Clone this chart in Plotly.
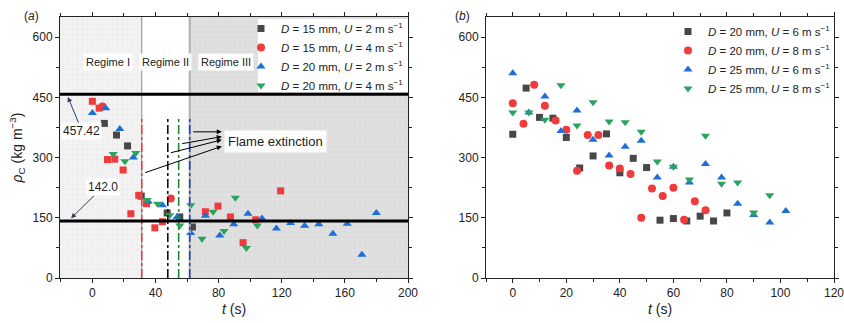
import plotly.graph_objects as go

# ---------------- data: panel (a) ----------------
a_t_dark = [7.6, 15.3, 22.3, 31.0, 47.4, 55.4, 63.4]
a_rho_dark = [385, 356, 329, 204, 162, 152, 127]

a_t_red_sq = [0, 4.3, 9.6, 14.2, 19.5, 24.4, 29.4, 34.3, 39.6, 44.4, 71.6, 79.6, 87.5, 95.5, 103.5, 119.3]
a_rho_red_sq = [440, 423, 295, 296, 269, 160, 206, 185, 125, 140, 165, 179, 152, 88, 145, 217]
a_t_red_ci = [6.4, 49.7]
a_rho_red_ci = [427, 198]

a_t_blue = [0, 8.5, 17.4, 26.0, 35.5, 44.4, 53.7, 62.3, 71.6, 80.7, 89.6, 98.6, 107.5,
            116.6, 125.6, 134.5, 143.5, 152.4, 161.5, 170.8, 179.9]
a_rho_blue = [411, 423, 371, 300, 190, 181, 152, 112, 155, 106, 134, 160, 148,
              123, 137, 130, 134, 110, 135, 58, 162]

a_t_green = [13.2, 20.6, 27.5, 34.7, 41.3, 49.0, 55.4, 62.3, 69.5, 76.5, 83.4, 90.6, 97.6, 104.5]
a_rho_green = [309, 291, 311, 194, 185, 156, 131, 181, 98, 165, 117, 200, 75, 131]

a_labels = ["<i>D</i> = 15 mm, <i>U</i> = 2 m s<sup>−1</sup>",
            "<i>D</i> = 15 mm, <i>U</i> = 4 m s<sup>−1</sup>",
            "<i>D</i> = 20 mm, <i>U</i> = 2 m s<sup>−1</sup>",
            "<i>D</i> = 20 mm, <i>U</i> = 4 m s<sup>−1</sup>"]

rho_levels = [457.42, 142.0]
extinction_t = [31.3, 47.8, 54.7, 61.7]          # red, black, green, blue
extinction_top = 400
regime_bounds = [-20.5, 31.3, 61.7, 200]
regime_names = ["Regime I", "Regime II", "Regime III"]
rho_top = 650

# ---------------- data: panel (b) ----------------
b_t_dark = [0, 5, 10, 15, 20, 25, 30, 35, 40, 45, 50, 55, 60, 65, 70, 75, 80]
b_rho_dark = [358, 473, 400, 398, 350, 274, 304, 359, 262, 298, 275, 144, 148, 142, 154, 142, 162]

b_t_red = [0, 4, 8, 12, 16, 20, 24, 28, 32, 36, 40, 44, 48, 52, 56, 60, 64, 68, 72]
b_rho_red = [435, 384, 481, 429, 392, 369, 267, 356, 356, 280, 273, 259, 150, 223, 204, 225, 145, 191, 169]

b_t_blue = [0, 6, 12, 18, 24, 30, 36, 42, 48, 54, 60, 66, 72, 78, 84, 90, 96, 102]
b_rho_blue = [510, 412, 452, 366, 417, 344, 305, 327, 342, 250, 277, 238, 284, 250, 185, 157, 138, 167]

b_t_green = [0, 6, 12, 18, 24, 30, 36, 42, 48, 54, 60, 66, 72, 78, 84, 90, 96]
b_rho_green = [412, 412, 394, 480, 380, 438, 390, 388, 364, 290, 277, 245, 354, 235, 238, 163, 206]

b_labels = ["<i>D</i> = 20 mm, <i>U</i> = 6 m s<sup>−1</sup>",
            "<i>D</i> = 20 mm, <i>U</i> = 8 m s<sup>−1</sup>",
            "<i>D</i> = 25 mm, <i>U</i> = 6 m s<sup>−1</sup>",
            "<i>D</i> = 25 mm, <i>U</i> = 8 m s<sup>−1</sup>"]

# ---------------- styling ----------------
GRAY, RED, BLUE, GREEN = "#474747", "#ef3b3b", "#1d6fd8", "#28a55c"
FONT = "Liberation Sans, Arial, Helvetica, sans-serif"
INK = "#222222"
W, H = 844, 323


def px_x(p):
    return p / W


def px_y(p):
    return (H - p) / H


fig = go.Figure()

# regime background bands (textured) as bars in panel a
for (lo, hi), bg, fg in [((regime_bounds[0], regime_bounds[1]), "#f3f3f3", "#e0e0e0"),
                         ((regime_bounds[2], regime_bounds[3]), "#dddddd", "#ebebeb")]:
    fig.add_trace(go.Bar(
        x=[(lo + hi) / 2], y=[rho_top], width=[hi - lo], base=0, xaxis="x", yaxis="y",
        marker=dict(color=bg, line=dict(width=0),
                    pattern=dict(shape="+", bgcolor=bg, fgcolor=fg, size=5, solidity=0.2)),
        showlegend=False, hoverinfo="skip"))


def add(x, y, sym, color, size, name, xa, ya, legend, rank, show=True):
    fig.add_trace(go.Scatter(
        x=x, y=y, mode="markers", name=name, xaxis=xa, yaxis=ya,
        marker=dict(symbol=sym, color=color, size=size, line=dict(width=0)),
        legend=legend, legendrank=rank, showlegend=show))


# panel a
add(a_t_dark, a_rho_dark, "square", GRAY, 7, a_labels[0], "x", "y", "legend", 1)
add(a_t_red_sq, a_rho_red_sq, "square", RED, 7, a_labels[1], "x", "y", "legend", 2, show=False)
add(a_t_red_ci, a_rho_red_ci, "circle", RED, 8, a_labels[1], "x", "y", "legend", 2)
add(a_t_blue, a_rho_blue, "triangle-up", BLUE, 8, a_labels[2], "x", "y", "legend", 3)
add(a_t_green, a_rho_green, "triangle-down", GREEN, 8, a_labels[3], "x", "y", "legend", 4)
# panel b
add(b_t_dark, b_rho_dark, "square", GRAY, 7, b_labels[0], "x2", "y2", "legend2", 1)
add(b_t_red, b_rho_red, "circle", RED, 8, b_labels[1], "x2", "y2", "legend2", 2)
add(b_t_blue, b_rho_blue, "triangle-up", BLUE, 8, b_labels[2], "x2", "y2", "legend2", 3)
add(b_t_green, b_rho_green, "triangle-down", GREEN, 8, b_labels[3], "x2", "y2", "legend2", 4)

a_dom = [px_x(60), px_x(408)]
b_dom = [px_x(486), px_x(834)]
y_dom = [px_y(278), px_y(17)]

tickfont = dict(family=FONT, size=12, color=INK)
xtitle = dict(text="<i>t</i> (s)", font=dict(family=FONT, size=14, color=INK), standoff=4)
ytitle = dict(text="<i>ρ</i><sub>C</sub> (kg m<sup>−3</sup>)",
              font=dict(family=FONT, size=14, color=INK), standoff=6)

axcommon = dict(showline=True, linecolor=INK, mirror="ticks", ticks="outside", ticklen=4, tickcolor=INK,
                tickfont=tickfont, zeroline=False, showgrid=False, automargin=False,
                ticklabeloverflow="allow")
fig.update_layout(
    xaxis=dict(domain=a_dom, anchor="y", range=[-20.5, 200], tickvals=[0, 40, 80, 120, 160, 200],
               title=xtitle, minor=dict(dtick=20, ticks="outside", ticklen=3, tickcolor=INK), **axcommon),
    yaxis=dict(domain=y_dom, anchor="x", range=[0, rho_top], tickvals=[0, 150, 300, 450, 600],
               title=ytitle, minor=dict(tickvals=[75, 225, 375, 525], ticks="outside", ticklen=3,
                                         tickcolor=INK), **axcommon),
    xaxis2=dict(domain=b_dom, anchor="y2", range=[-10, 120], tickvals=[0, 20, 40, 60, 80, 100, 120],
                title=xtitle, minor=dict(dtick=10, ticks="outside", ticklen=3, tickcolor=INK), **axcommon),
    yaxis2=dict(domain=y_dom, anchor="x2", range=[0, rho_top], tickvals=[0, 150, 300, 450, 600],
                minor=dict(tickvals=[75, 225, 375, 525], ticks="outside", ticklen=3, tickcolor=INK),
                **axcommon),
    barmode="overlay", bargap=0,
)

shapes = []
# white box behind legend of panel a
shapes.append(dict(type="rect", xref="paper", yref="paper", x0=px_x(258), x1=px_x(408),
                   y0=px_y(92), y1=px_y(19), fillcolor="white", line=dict(width=0), layer="above"))
shapes.append(dict(type="line", xref="x", yref="y domain", x0=regime_bounds[1], x1=regime_bounds[1],
                   y0=0, y1=1, line=dict(color="#8a8a8a", width=1), layer="above"))
shapes.append(dict(type="line", xref="x", yref="y domain", x0=regime_bounds[2], x1=regime_bounds[2],
                   y0=0, y1=1, line=dict(color="#b0b0b0", width=2), layer="above"))
# extinction lines
for tx, col in zip(extinction_t, [RED, "#111111", "#1c8a2e", "#1a3fe0"]):
    shapes.append(dict(type="line", xref="x", yref="y", x0=tx, x1=tx, y0=0, y1=extinction_top,
                       line=dict(color=col, width=1.6, dash="dashdot"), layer="above"))
# horizontal reference levels
for lv in rho_levels:
    shapes.append(dict(type="line", xref="x domain", yref="y", x0=0, x1=1, y0=lv, y1=lv,
                       line=dict(color="black", width=3), layer="above"))
fig.update_layout(shapes=shapes)

ann = []
afont = dict(family=FONT, size=11, color=INK)
for i, nm in enumerate(regime_names):
    cx = [9.8, 46.5, 84.5][i]
    ann.append(dict(x=cx, y=539, xref="x", yref="y", text=nm, showarrow=False,
                    bgcolor="white", font=afont, borderpad=2))
ann.append(dict(x=-15.5, y=451, ax=-6.6, ay=366, xref="x", yref="y", axref="x", ayref="y",
                text=f"{rho_levels[0]:.2f}", showarrow=True, arrowhead=2, arrowsize=1, arrowwidth=1,
                bgcolor="white", font=dict(family=FONT, size=12, color=INK), standoff=0))
ann.append(dict(x=-13.5, y=149, ax=6.6, ay=226, xref="x", yref="y", axref="x", ayref="y",
                text=f"{rho_levels[1]:.1f}", showarrow=True, arrowhead=2, arrowsize=1, arrowwidth=1,
                bgcolor="white", font=dict(family=FONT, size=12, color=INK), standoff=0))
ann.append(dict(x=116, y=339, xref="x", yref="y", text="Flame extinction", showarrow=False,
                bgcolor="white", font=dict(family=FONT, size=13, color=INK), borderpad=3))
heads_y = [364, 352, 344, 328]
tails = [(63.0, 364), (56.0, 334), (48.8, 311), (32.5, 261)]
for hy, (tx, ty) in zip(heads_y, tails):
    ann.append(dict(x=82, y=hy, ax=tx, ay=ty, xref="x", yref="y", axref="x", ayref="y",
                    text="", showarrow=True, arrowhead=2, arrowsize=1, arrowwidth=1, arrowcolor="black"))
ann.append(dict(x=px_x(22), y=px_y(7), xref="paper", yref="paper", text="(<i>a</i>)", showarrow=False,
                font=dict(family=FONT, size=12, color=INK)))
ann.append(dict(x=px_x(462), y=px_y(7), xref="paper", yref="paper", text="(<i>b</i>)", showarrow=False,
                font=dict(family=FONT, size=12, color=INK)))
fig.update_layout(annotations=ann)

legfont = dict(family=FONT, size=11.5, color=INK)
fig.update_layout(
    legend=dict(x=px_x(409), xanchor="right", y=px_y(14), yanchor="top", bgcolor="rgba(255,255,255,0)",
                font=legfont, tracegroupgap=0),
    legend2=dict(x=px_x(836), xanchor="right", y=px_y(17), yanchor="top", bgcolor="rgba(255,255,255,0)",
                 font=legfont, tracegroupgap=0),
    width=W, height=H, margin=dict(l=0, r=0, t=0, b=0, autoexpand=False),
    paper_bgcolor="white", plot_bgcolor="white", showlegend=True,
    font=dict(family=FONT),
)

# the page body normally has an 8 px margin; remove it so the figure fills the window exactly
fig.write_html("out.html", config={"displayModeBar": False},
               post_script="document.body.style.margin='0';")
